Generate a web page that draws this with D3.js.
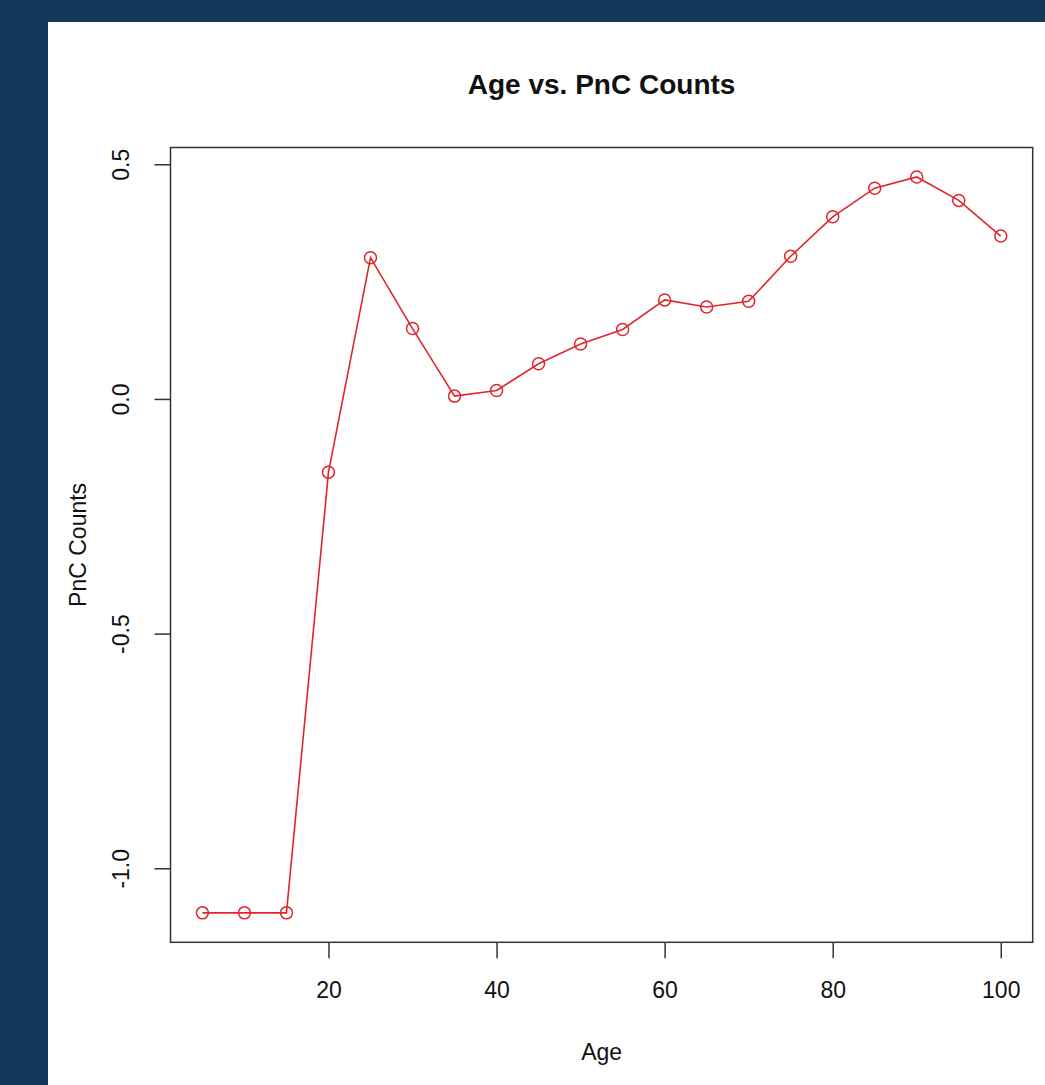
<!DOCTYPE html>
<html>
<head>
<meta charset="utf-8">
<script src="https://cdn.jsdelivr.net/npm/d3@7"></script>
<style>
 body { margin: 0; background: #133759; }
 svg { display: block; }
</style>
</head>
<body>
<svg width="1045" height="1085"></svg>
<script>
// values
var ages = [5, 10, 15, 20, 25, 30, 35, 40, 45, 50, 55, 60, 65, 70, 75, 80, 85, 90, 95, 100];
var pncCounts = [-1.095, -1.095, -1.095, -0.156, 0.301, 0.150, 0.006, 0.018, 0.075, 0.117,
 0.148, 0.211, 0.196, 0.208, 0.304, 0.388, 0.449, 0.473, 0.423, 0.347];
var xTicks = [20, 40, 60, 80, 100];
var yTicks = [-1.0, -0.5, 0.0, 0.5];

var data = ages.map(function(a, i) {
 return { age: a, value: pncCounts[i] };
});

var svg = d3.select("svg");

// background + white panel
svg.append("rect")
 .attr("width", 1045).attr("height", 1085)
 .attr("fill", "#133759");
svg.append("rect")
 .attr("x", 48).attr("y", 22)
 .attr("width", 1045 - 48).attr("height", 1085 - 22)
 .attr("fill", "white");

var box = { left: 170.5, right: 1032.7, top: 147.5, bottom: 942.3 };

// R style 4% padding on the data range
function pad(ext) {
 var d = (ext[1] - ext[0]) * 0.04;
 return [ext[0] - d, ext[1] + d];
}

var x = d3.scaleLinear().domain(pad(d3.extent(ages))).range([box.left, box.right]);
var y = d3.scaleLinear().domain(pad(d3.extent(pncCounts))).range([box.bottom, box.top]);

var font = "'Liberation Sans', Arial, Helvetica, sans-serif";
var fmtY = function(d) { return d3.format(".1f")(d).replace("\u2212", "-"); };

// x axis
var gx = svg.append("g")
 .attr("transform", "translate(0," + box.bottom + ")")
 .call(d3.axisBottom(x).tickValues(xTicks).tickSize(16).tickFormat(d3.format("d")));
gx.select(".domain").remove();
gx.selectAll(".tick line").attr("stroke", "#333").attr("stroke-width", 1.5);
gx.selectAll(".tick text")
 .attr("font-family", font).attr("font-size", "23px").attr("fill", "#111")
 .attr("y", 56).attr("dy", 0);

// y axis, labels turned like R's las=0
var gy = svg.append("g")
 .attr("transform", "translate(" + box.left + ",0)")
 .call(d3.axisLeft(y).tickValues(yTicks).tickSize(16).tickFormat(fmtY));
gy.select(".domain").remove();
gy.selectAll(".tick line").attr("stroke", "#333").attr("stroke-width", 1.5);
gy.selectAll(".tick text")
 .attr("font-family", font).attr("font-size", "23px").attr("fill", "#111")
 .attr("transform", "rotate(-90)")
 .attr("x", 0).attr("y", -42).attr("dy", 0)
 .attr("text-anchor", "middle");

// plot box
svg.append("rect")
 .attr("x", box.left).attr("y", box.top)
 .attr("width", box.right - box.left).attr("height", box.bottom - box.top)
 .attr("fill", "none").attr("stroke", "#333").attr("stroke-width", 1.5);

// line + circles
var line = d3.line()
 .x(function(d) { return x(d.age); })
 .y(function(d) { return y(d.value); });

svg.append("path")
 .datum(data)
 .attr("d", line)
 .attr("fill", "none")
 .attr("stroke", "#e0262d")
 .attr("stroke-width", 1.6);

svg.selectAll(".pt")
 .data(data)
 .enter()
 .append("circle")
 .attr("class", "pt")
 .attr("cx", function(d) { return x(d.age); })
 .attr("cy", function(d) { return y(d.value); })
 .attr("r", 6)
 .attr("fill", "none")
 .attr("stroke", "#e0262d")
 .attr("stroke-width", 1.5);

// title and axis titles
svg.append("text")
 .text("Age vs. PnC Counts")
 .attr("x", (box.left + box.right) / 2)
 .attr("y", 94)
 .attr("text-anchor", "middle")
 .attr("font-family", font)
 .attr("font-weight", "bold")
 .attr("font-size", "28px")
 .attr("fill", "#111");

svg.append("text")
 .text("Age")
 .attr("x", (box.left + box.right) / 2)
 .attr("y", 1060)
 .attr("text-anchor", "middle")
 .attr("font-family", font)
 .attr("font-size", "23px")
 .attr("fill", "#111");

svg.append("text")
 .text("PnC Counts")
 .attr("transform", "translate(86," + (box.top + box.bottom) / 2 + ") rotate(-90)")
 .attr("text-anchor", "middle")
 .attr("font-family", font)
 .attr("font-size", "23px")
 .attr("fill", "#111");
</script>
</body>
</html>
